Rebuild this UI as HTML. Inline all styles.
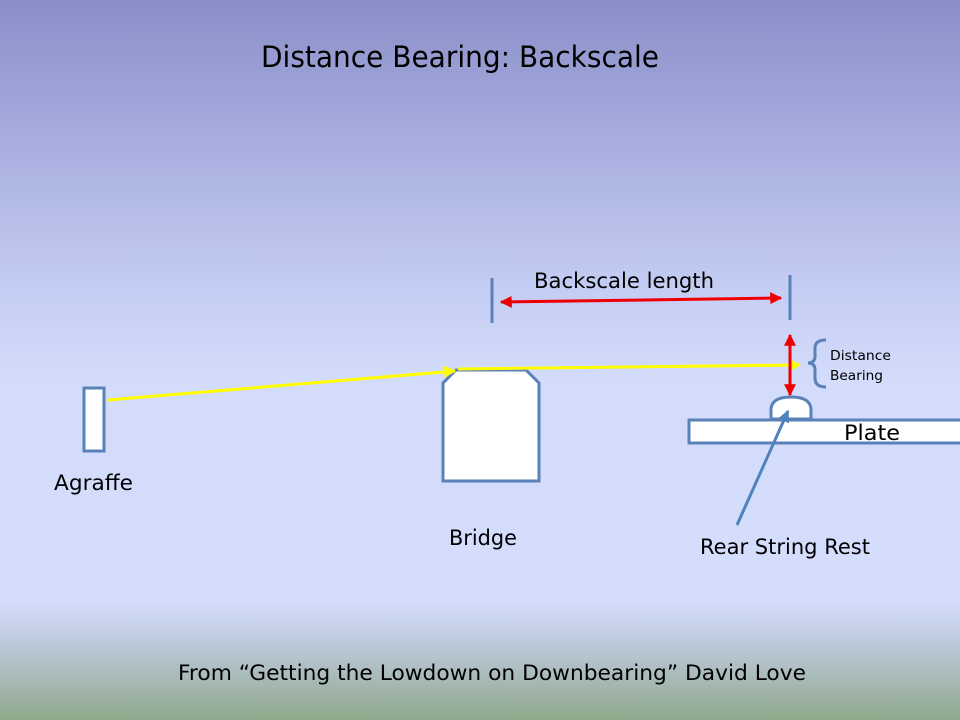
<!DOCTYPE html>
<html><head><meta charset="utf-8"><style>
html,body{margin:0;padding:0;}
body{width:960px;height:720px;overflow:hidden;background:linear-gradient(to bottom,#8a8ec8 0px,#a9b0e0 150px,#c6cff4 300px,#d3dcfb 380px,#d4ddfc 600px,#b9c6d6 650px,#8fa88a 720px);}
svg{display:block}
text{font-family:"DejaVu Sans","Liberation Sans",sans-serif;fill:#000}
</style></head><body>
<svg width="960" height="720" viewBox="0 0 960 720" xmlns="http://www.w3.org/2000/svg">
<defs>
<marker id="ay" viewBox="0 0 10 10" refX="9" refY="5" markerWidth="4" markerHeight="4" orient="auto"><path d="M0,0L10,5L0,10z" fill="#ffff00"/></marker>
<marker id="ar" viewBox="0 0 10 10" refX="9" refY="5" markerWidth="4" markerHeight="4" orient="auto-start-reverse"><path d="M0,0L10,5L0,10z" fill="#ee0000"/></marker>
<marker id="ab" viewBox="0 0 10 10" refX="9" refY="5" markerWidth="4" markerHeight="4" orient="auto"><path d="M0,0L10,5L0,10z" fill="#4f81bd"/></marker>
</defs>
<text x="460" y="67" font-size="29" text-anchor="middle" textLength="398" lengthAdjust="spacingAndGlyphs">Distance Bearing: Backscale</text>
<rect x="84" y="388" width="20" height="63" fill="#fff" stroke="#5a82b8" stroke-width="3"/>
<path d="M443,383L456,370L526,370L539,383L539,481L443,481Z" fill="#fff" stroke="#5a82b8" stroke-width="3"/>
<path d="M771,419V410Q771,397 791,397Q811,397 811,410V419Z" fill="#fff" stroke="#5a82b8" stroke-width="3"/>
<rect x="689" y="420" width="275" height="23" fill="#fff" stroke="#5a82b8" stroke-width="3"/>
<line x1="108" y1="400" x2="455" y2="371" stroke="#ffff00" stroke-width="3" marker-end="url(#ay)"/>
<line x1="458" y1="369" x2="800" y2="365" stroke="#ffff00" stroke-width="3" marker-end="url(#ay)"/>
<line x1="492" y1="278" x2="492" y2="323" stroke="#5a82b8" stroke-width="3"/>
<line x1="790" y1="275" x2="790" y2="320" stroke="#5a82b8" stroke-width="3"/>
<line x1="501" y1="302" x2="781" y2="298" stroke="#ee0000" stroke-width="3" marker-start="url(#ar)" marker-end="url(#ar)"/>
<line x1="790" y1="335" x2="790" y2="395" stroke="#ee0000" stroke-width="3" marker-start="url(#ar)" marker-end="url(#ar)"/>
<path d="M826,340Q815,340 815,348V356Q815,363 808,363Q815,363 815,370V378Q815,387 826,387" fill="none" stroke="#5a82b8" stroke-width="3"/>
<line x1="737" y1="525" x2="788" y2="411" stroke="#4f81bd" stroke-width="3" marker-end="url(#ab)"/>
<text x="534" y="288" font-size="21" textLength="180" lengthAdjust="spacingAndGlyphs">Backscale length</text>
<text x="830" y="360" font-size="13" textLength="61" lengthAdjust="spacingAndGlyphs">Distance</text>
<text x="830" y="380" font-size="13" textLength="53" lengthAdjust="spacingAndGlyphs">Bearing</text>
<text x="844" y="440" font-size="21" textLength="56" lengthAdjust="spacingAndGlyphs">Plate</text>
<text x="54" y="490" font-size="21" textLength="79" lengthAdjust="spacingAndGlyphs">Agraffe</text>
<text x="449" y="545" font-size="21" textLength="68" lengthAdjust="spacingAndGlyphs">Bridge</text>
<text x="700" y="554" font-size="21" textLength="170" lengthAdjust="spacingAndGlyphs">Rear String Rest</text>
<text x="178" y="680" font-size="21" textLength="628" lengthAdjust="spacingAndGlyphs">From “Getting the Lowdown on Downbearing”  David Love</text>
</svg>
</body></html>
